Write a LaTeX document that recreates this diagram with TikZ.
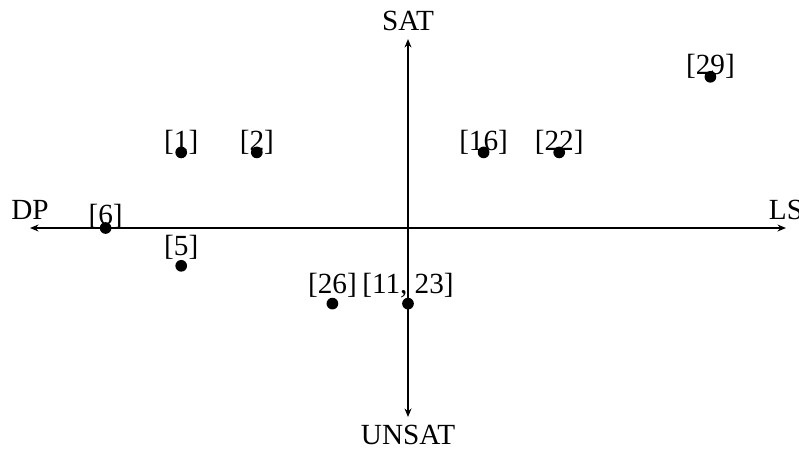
\documentclass[tikz,border=0pt]{standalone}
\usepackage{fontspec}
\setmainfont{Liberation Serif}
\usetikzlibrary{arrows.meta}
\begin{document}
\begin{tikzpicture}[x=1cm,y=1cm,
  font=\fontsize{11}{13}\selectfont,
  dot/.style={circle,fill=black,inner sep=0pt,minimum size=4.4pt},
  lbl/.style={inner sep=0pt,anchor=center},
  axislbl/.style={inner sep=3pt},
  axis/.style={line width=0.6pt,{Stealth[length=3.2pt,width=2.6pt]}-{Stealth[length=3.2pt,width=2.6pt]}}]
\useasboundingbox (-5.397,-3.003) rectangle (5.172,3.016);
% axes
\coordinate (L) at (-5,0);
\coordinate (R) at (5,0);
\coordinate (T) at (0,2.5);
\coordinate (B) at (0,-2.5);
\draw[axis] (L) -- (R);
\draw[axis] (B) -- (T);
\node[axislbl,anchor=south] (dp) at (L) {DP};
\node[axislbl,anchor=south] (ls) at (R) {LS};
\node[axislbl,anchor=south] (sat) at (T) {SAT};
\node[axislbl,anchor=north] (unsat) at (B) {UNSAT};
% labels
\node[lbl] (l1) at (-3,1.14) {[1]};
\node[lbl] (l2) at (-2,1.14) {[2]};
\node[lbl] (l16) at (1,1.14) {[16]};
\node[lbl] (l22) at (2,1.14) {[22]};
\node[lbl] (l29) at (4,2.14) {[29]};
\node[lbl] (l6) at (-4,0.16) {[6]};
\node[lbl] (l5) at (-3,-0.25) {[5]};
\node[lbl] (l26) at (-1,-0.76) {[26]};
\node[lbl] (l1123) at (0,-0.76) {[11, 23]};
% points
\node[dot] (p1) at (-3,1) {};
\node[dot] (p2) at (-2,1) {};
\node[dot] (p16) at (1,1) {};
\node[dot] (p22) at (2,1) {};
\node[dot] (p29) at (4,2) {};
\node[dot] (p6) at (-4,0) {};
\node[dot] (p5) at (-3,-0.5) {};
\node[dot] (p26) at (-1,-1) {};
\node[dot] (p1123) at (0,-1) {};
\end{tikzpicture}
\end{document}
